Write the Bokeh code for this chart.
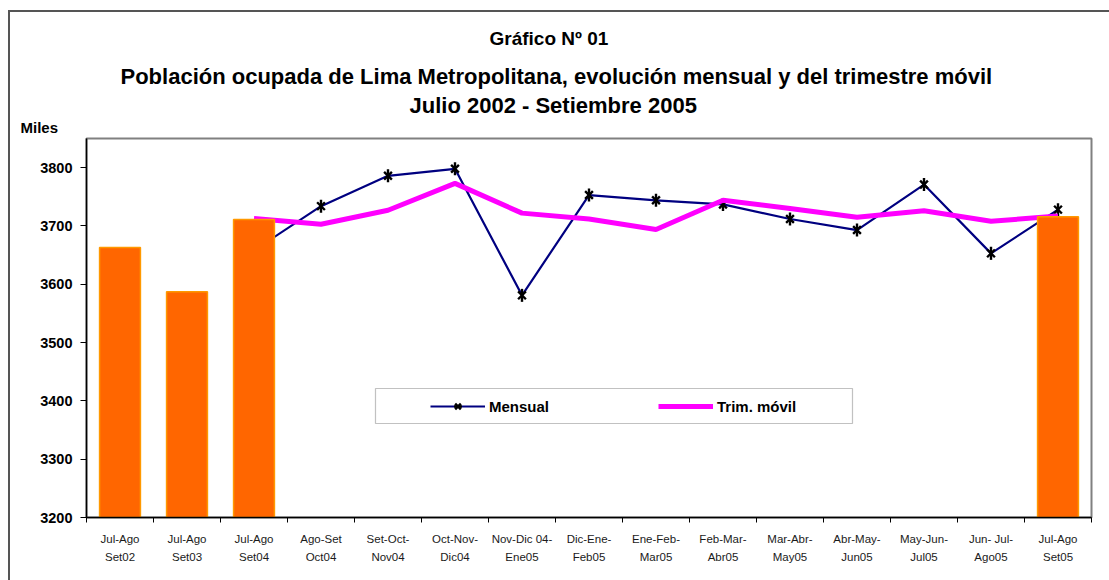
import math
from bokeh.plotting import figure
from bokeh.layouts import column
from bokeh.models import (FixedTicker, Legend, LegendItem, Title, BoxAnnotation)
from bokeh.embed import file_html
from bokeh.resources import INLINE

# ---- data ----
categories = ["Jul-Ago\nSet02", "Jul-Ago\nSet03", "Jul-Ago\nSet04", "Ago-Set\nOct04",
              "Set-Oct-\nNov04", "Oct-Nov-\nDic04", "Nov-Dic 04-\nEne05", "Dic-Ene-\nFeb05",
              "Ene-Feb-\nMar05", "Feb-Mar-\nAbr05", "Mar-Abr-\nMay05", "Abr-May-\nJun05",
              "May-Jun-\nJul05", "Jun- Jul-\nAgo05", "Jul-Ago\nSet05"]
bar_index = [0, 1, 2, 14]
bar_values = [3663, 3587, 3711, 3716]
line_index = [2, 3, 4, 5, 6, 7, 8, 9, 10, 11, 12, 13, 14]
mensual = [3658, 3734, 3786, 3798, 3581, 3753, 3744, 3737, 3712, 3693, 3771, 3653, 3728]
trim_movil = [3713, 3703, 3727, 3773, 3722, 3712, 3694, 3744, 3730, 3715, 3726, 3708, 3717]
y_ticks = [3200, 3300, 3400, 3500, 3600, 3700, 3800]

FONT = "Liberation Sans"

p = figure(width=1099, height=568, x_range=(0, len(categories)), y_range=(3200, 3850),
           output_backend="svg", toolbar_location=None, title=None,
           min_border_left=76, min_border_right=18, min_border_top=126, min_border_bottom=63)
p.xgrid.visible = False
p.ygrid.visible = False
p.outline_line_color = "#808080"
p.outline_line_width = 2
p.background_fill_color = "white"
p.border_fill_color = "white"

# x axis: labels at category centres, tick marks at category boundaries
centers = [i + 0.5 for i in range(len(categories))]
p.xaxis.ticker = FixedTicker(ticks=centers, minor_ticks=list(range(len(categories) + 1)))
p.xaxis.major_label_overrides = {c: lab for c, lab in zip(centers, categories)}
p.xaxis.major_tick_line_color = None
p.xaxis.major_tick_out = 0
p.xaxis.major_tick_in = 0
p.xaxis.minor_tick_out = 5
p.xaxis.minor_tick_in = 0
p.xaxis.minor_tick_line_color = "black"
p.xaxis.major_label_standoff = 10
p.xaxis.major_label_text_font = FONT
p.xaxis.major_label_text_font_size = "11.5px"
p.xaxis.major_label_text_line_height = 1.5
p.xaxis.major_label_text_color = "#1a1a1a"
p.xaxis.axis_line_color = "black"
p.xaxis.axis_line_width = 1.5

p.yaxis.ticker = FixedTicker(ticks=y_ticks, minor_ticks=[])
p.yaxis.major_tick_out = 6
p.yaxis.major_tick_in = 0
p.yaxis.major_tick_line_color = "black"
p.yaxis.major_label_standoff = 8
p.yaxis.major_label_text_font = FONT
p.yaxis.major_label_text_font_style = "bold"
p.yaxis.major_label_text_font_size = "14.5px"
p.yaxis.major_label_text_color = "black"
p.yaxis.axis_line_color = "black"
p.yaxis.axis_line_width = 1.5

xs_line = [i + 0.5 for i in line_index]
xs_bar = [i + 0.5 for i in bar_index]

ml = p.line(xs_line, mensual, line_color="#000080", line_width=2.2)
mx = p.scatter(xs_line, mensual, marker="x", size=11, line_color="black", line_width=2.4)
md = p.scatter(xs_line, mensual, marker="dash", size=13, angle=math.pi / 2,
               line_color="black", line_width=2.4)
tl = p.line(xs_line, trim_movil, line_color="#FF00FF", line_width=5)
p.vbar(x=xs_bar, top=bar_values, bottom=3200, width=0.61,
       fill_color="#FF6600", line_color="#FF9900", line_width=1.5)

# legend box
p.add_layout(BoxAnnotation(left=289, right=766, top=129, bottom=94,
                           left_units="screen", right_units="screen",
                           top_units="screen", bottom_units="screen",
                           fill_color="white", fill_alpha=1, line_color="#333333", line_width=1.2))

legend = Legend(items=[LegendItem(label="Mensual", renderers=[ml, mx, md]),
                       LegendItem(label="Trim. móvil", renderers=[tl])],
                orientation="horizontal", location=(339, 96), padding=5, margin=0,
                spacing=89, label_width=80, glyph_width=55, glyph_height=20,
                label_standoff=4, border_line_alpha=0, background_fill_alpha=0,
                label_text_font=FONT, label_text_font_style="bold",
                label_text_font_size="15px", label_text_color="black")
p.add_layout(legend)

def title(text, size, offset, valign, standoff):
    p.add_layout(Title(text=text, text_font=FONT, text_font_style="bold",
                       text_font_size=size, text_color="black", align="left",
                       offset=offset, vertical_align=valign, standoff=standoff), "above")

# added from the plot outward
title("Miles", "15px", -66, "top", 1.2)
title("Julio 2002 - Setiembre 2005", "22px", 323, "bottom", 1.4)
title("Población ocupada de Lima Metropolitana, evolución mensual y del trimestre móvil",
      "22px", 34, "middle", 1.5)
title("Gráfico Nº 01", "19px", 403, "bottom", 25.2)

layout = column(p, margin=(10, 0, 0, 8),
                styles={"border-left": "2px solid #555555", "border-top": "2px solid #555555"})

open("out.html", "w").write(file_html(layout, INLINE))
